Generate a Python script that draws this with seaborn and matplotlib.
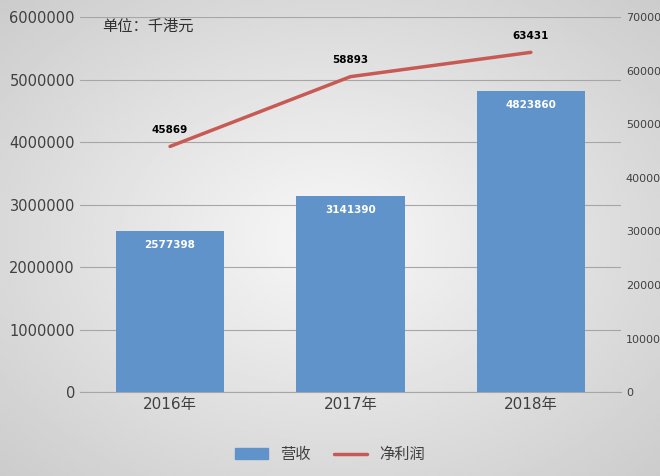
import numpy as np
import matplotlib
matplotlib.use("Agg")
import matplotlib.pyplot as plt
import seaborn as sns
import pandas as pd

years = ["2016年", "2017年", "2018年"]
revenue = [2577398, 3141390, 4823860]
profit = [45869, 58893, 63431]

sns.set_style("white")
plt.rcParams['font.family'] = ['DejaVu Sans', 'Noto Sans CJK SC']

fig = plt.figure(figsize=(6.6, 4.76), dpi=100)
bg = fig.add_axes([0, 0, 1, 1], zorder=-10)
yy, xx = np.mgrid[-1:1:200j, -1:1:200j]
r = np.sqrt(xx**2 + yy**2)
img = np.clip(0.97 - 0.12 * r, 0, 1)
bg.imshow(img, cmap="gray", vmin=0, vmax=1, aspect="auto", extent=[0, 1, 0, 1])
bg.axis("off")

ax = fig.add_axes([0.121, 0.176, 0.82, 0.788])
ax.patch.set_alpha(0)
df = pd.DataFrame({"year": years, "rev": revenue})
sns.barplot(data=df, x="year", y="rev", color="#6193cb", saturation=1, width=0.6,
            linewidth=0, ax=ax, zorder=3)
ax.set_ylim(0, 6000000)
ax.set_yticks(range(0, 6000001, 1000000))
ax.set_yticklabels([str(v) for v in range(0, 6000001, 1000000)], fontsize=10.5, color="#404040")
ax.tick_params(axis="x", labelsize=11, colors="#404040", length=0)
ax.tick_params(axis="y", length=0)
ax.set_xlabel(""); ax.set_ylabel("")
ax.grid(axis="y", color="#a6a6a6", lw=0.8, zorder=0)
for s in ["top", "right", "left"]:
    ax.spines[s].set_visible(False)
ax.spines["bottom"].set_color("#a6a6a6")
for i, v in enumerate(revenue):
    ax.text(i, v - 150000, str(v), ha="center", va="top", color="white", fontsize=7.5, fontweight="bold", zorder=5)

ax2 = ax.twinx()
ax2.plot(range(3), profit, color="#c85a55", lw=2.5, zorder=4)
ax2.set_ylim(0, 70000)
ax2.set_yticks(range(0, 70001, 10000))
ax2.set_yticklabels([str(v) for v in range(0, 70001, 10000)], fontsize=8, color="#404040")
ax2.tick_params(axis="y", length=0)
for s in ["top", "right", "left", "bottom"]:
    ax2.spines[s].set_visible(False)
for i, v in enumerate(profit):
    ax2.text(i, v + 2200, str(v), ha="center", va="bottom", color="black", fontsize=7.5, fontweight="bold")
ax.set_xlim(-0.5, 2.5)

fig.text(0.155, 0.945, "单位：千港元", fontsize=11, color="#303030", va="center",
         family=['Noto Sans CJK SC', 'DejaVu Sans'])

from matplotlib.patches import Patch
from matplotlib.lines import Line2D
handles = [Patch(color="#6193cb", label="营收"), Line2D([], [], color="#c85a55", lw=2.5, label="净利润")]
fig.legend(handles=handles, loc="center", bbox_to_anchor=(0.5, 0.045), ncol=2, frameon=False,
           prop={'family': ['Noto Sans CJK SC'], 'size': 11},
           handlelength=2.2, columnspacing=1.5, labelcolor="#404040")
fig.savefig("out.png", dpi=100)
